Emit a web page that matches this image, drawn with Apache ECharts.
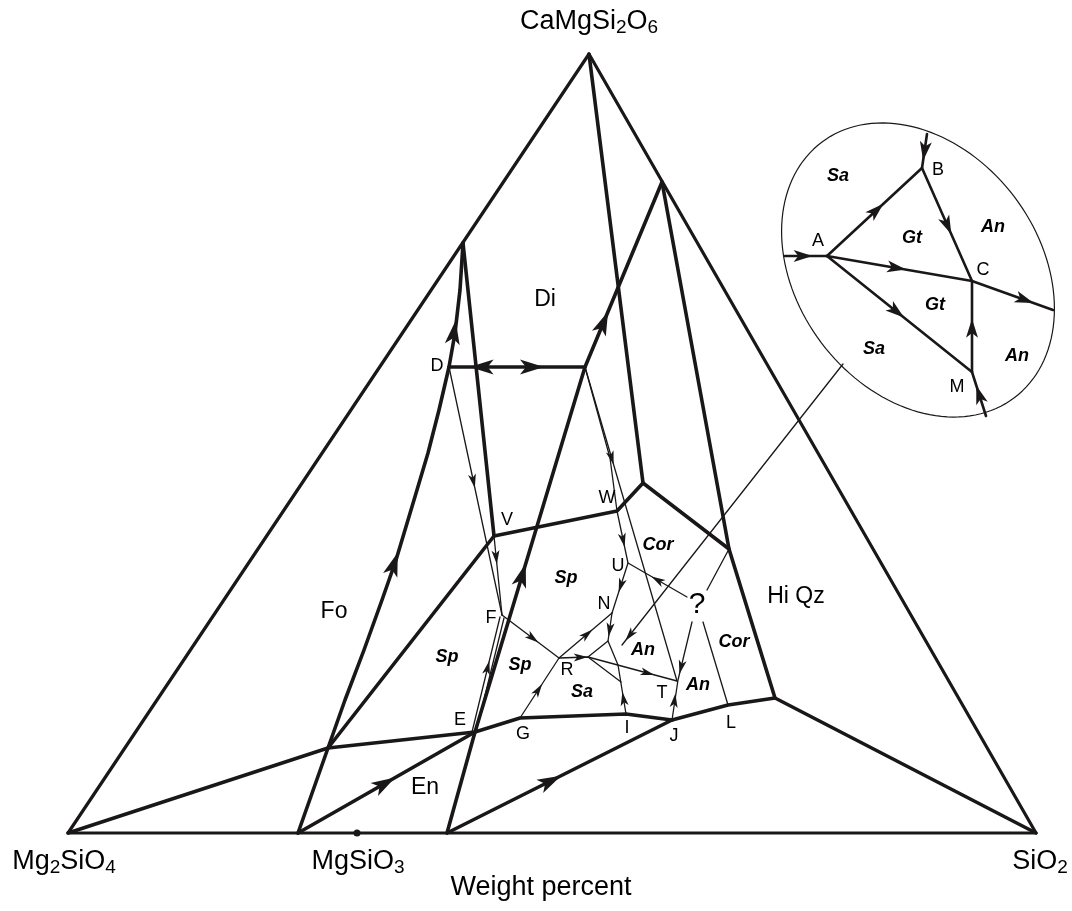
<!DOCTYPE html>
<html>
<head>
<meta charset="utf-8">
<script src="https://cdn.jsdelivr.net/npm/echarts@6/dist/echarts.min.js"></script>
<style>
  html, body { margin: 0; padding: 0; background: #fff; }
  #container { width: 1072px; height: 911px; }
</style>
</head>
<body>
<div id="container"></div>
<script>
// frame units follow the printed figure: x to the right, y downward
var triangle = [[68, 833], [589, 54], [1036, 833], [68, 833]];

var foCurve = [[463, 243], [460, 290], [455, 333], [449, 367], [439, 410], [428, 453],
    [414, 500], [402, 540], [396, 560], [382, 600], [364, 650], [345, 700], [328, 748], [298, 833]];

// heavy field boundaries
var boundaries = [
    [[463, 243], [494, 536]],
    [[449, 367], [585, 367]],
    [[447, 833], [475, 732], [585, 367], [662, 182]],
    [[589, 54], [643, 483]],
    [[662, 182], [729, 549], [775, 698], [1036, 833]],
    [[643, 483], [729, 549]],
    [[494, 536], [617, 511], [643, 483]],
    [[494, 536], [328, 748]],
    [[68, 833], [328, 748], [475, 732], [520, 718], [626, 714], [672, 720]],
    [[298, 833], [475, 732]],
    [[447, 833], [672, 720], [728, 705], [775, 698]]
];

// light crystallisation paths
var paths = [
    [[449, 367], [502, 615]],
    [[494, 536], [502, 615]],
    [[472, 732], [500, 617]],
    [[476, 732], [504, 618]],
    [[502, 615], [559, 658]],
    [[520, 718], [559, 658], [612, 613]],
    [[559, 658], [588, 657], [677, 681]],
    [[612, 613], [608, 641], [588, 657]],
    [[608, 641], [618, 665], [626, 714]],
    [[588, 657], [621, 682]],
    [[585, 367], [610, 458], [617, 511], [628, 563], [612, 613]],
    [[585, 367], [677, 681]],
    [[687, 597], [628, 563]],
    [[692, 622], [678, 680], [672, 720]],
    [[728, 705], [703, 622]],
    [[707, 590], [729, 549]],
    [[843, 364], [622, 645]]
];

// enlarged inset (ellipse)
var insetLines = [
    [[785, 256], [827, 256]],
    [[827, 256], [922, 168]],
    [[927, 134], [922, 168]],
    [[922, 168], [972, 281]],
    [[827, 256], [972, 281], [1053, 310]],
    [[827, 256], [972, 372]],
    [[972, 372], [972, 281]],
    [[986, 416], [972, 372]]
];
var insetOutline = [918, 270, 160, 121, 53]; // centre x, centre y, semi-axes, tilt (deg)

// arrows: segment start, segment end, position along it (points toward end)
var bigArrows = [
    [449, 367, 460, 290, 0.45],
    [382, 600, 402, 540, 0.6],
    [585, 367, 449, 367, 0.76],
    [449, 367, 585, 367, 0.61],
    [585, 367, 662, 182, 0.24],
    [475, 732, 585, 367, 0.43],
    [298, 833, 475, 732, 0.49],
    [447, 833, 672, 720, 0.46]
];
var smallArrows = [
    [449, 367, 502, 615, 0.46],
    [494, 536, 502, 615, 0.27],
    [472, 732, 500, 617, 0.56],
    [502, 615, 559, 658, 0.54],
    [520, 718, 559, 658, 0.47],
    [559, 658, 612, 613, 0.53],
    [559, 658, 588, 657, 0.75],
    [588, 657, 677, 681, 0.67],
    [612, 613, 608, 641, 0.6],
    [626, 714, 618, 665, 0.31],
    [585, 367, 677, 681, 0.29],
    [617, 511, 628, 563, 0.56],
    [628, 563, 612, 613, 0.45],
    [687, 597, 628, 563, 0.5],
    [692, 622, 678, 680, 0.78],
    [672, 720, 677, 681, 0.5],
    [843, 364, 622, 645, 0.965]
];
var insetArrows = [
    [785, 256, 827, 256, 0.43],
    [827, 256, 922, 168, 0.52],
    [927, 134, 922, 168, 0.5],
    [922, 168, 972, 281, 0.51],
    [827, 256, 972, 281, 0.48],
    [972, 281, 1053, 310, 0.65],
    [827, 256, 972, 372, 0.48],
    [972, 372, 972, 281, 0.48],
    [986, 416, 972, 372, 0.49]
];

var pointLabels = [['D', 437, 366], ['V', 507, 520], ['W', 607, 498], ['U', 618, 566],
    ['N', 604, 604], ['F', 491, 618], ['R', 567, 670], ['E', 460, 720], ['G', 523, 734],
    ['I', 627, 728], ['J', 674, 736], ['L', 731, 723], ['T', 662, 693],
    ['A', 818, 241], ['B', 938, 170], ['C', 983, 270], ['M', 957, 387]];
var fieldLabels = [['Di', 545, 300], ['Fo', 334, 612], ['En', 425, 788], ['Hi Qz', 796, 597]];
var phaseLabels = [['Sp', 447, 657], ['Sp', 520, 665], ['Sp', 566, 578], ['Sa', 582, 692],
    ['An', 643, 650], ['An', 698, 685], ['Cor', 658, 545], ['Cor', 734, 642],
    ['Sa', 838, 176], ['Gt', 912, 238], ['An', 993, 227], ['Gt', 935, 305],
    ['Sa', 874, 349], ['An', 1017, 356]];
var cornerLabels = [['CaMgSi{s|2}O{s|6}', 589, 22], ['Mg{s|2}SiO{s|4}', 64, 862],
    ['MgSiO{s|3}', 358, 862], ['SiO{s|2}', 1040, 862], ['Weight percent', 541, 888]];
var enstatite = [[357, 833]];

var ink = '#1a1718';
var textInk = '#000';
var font = '"Liberation Sans", Arial, sans-serif';
var arrowPath = 'path://M0,0L7,20L0,15L-7,20Z';

function arrowData(list) {
    return list.map(function (s) {
        var dx = s[2] - s[0], dy = s[3] - s[1];
        return {
            value: [s[0] + dx * s[4], s[1] + dy * s[4]],
            symbolRotate: Math.atan2(-dx, -dy) * 180 / Math.PI
        };
    });
}
function labelData(list) {
    return list.map(function (l) { return { name: l[0], value: [l[1], l[2]] }; });
}
function linesSeries(list, width) {
    return {
        type: 'lines', coordinateSystem: 'cartesian2d', polyline: true, silent: true,
        data: list.map(function (c) { return { coords: c }; }),
        lineStyle: { color: ink, width: width, opacity: 1, cap: 'round', join: 'round' }
    };
}
function arrowSeries(list, size) {
    return {
        type: 'scatter', silent: true, symbol: arrowPath, symbolSize: size,
        itemStyle: { color: ink, opacity: 1 }, data: arrowData(list), z: 5
    };
}
function textSeries(list, style) {
    return {
        type: 'scatter', silent: true, symbolSize: 1, itemStyle: { color: 'transparent' },
        label: Object.assign({
            show: true, position: 'inside', formatter: '{b}', color: textInk,
            textBorderWidth: 0, opacity: 1, fontFamily: font
        }, style),
        data: labelData(list), z: 6
    };
}

// outline of the inset, sampled from its centre, axes and tilt
var ell = [];
(function () {
    var t = insetOutline[4] * Math.PI / 180;
    for (var i = 0; i <= 144; i++) {
        var p = i / 144 * 2 * Math.PI;
        var u = insetOutline[2] * Math.cos(p), v = insetOutline[3] * Math.sin(p);
        ell.push([insetOutline[0] + u * Math.cos(t) - v * Math.sin(t),
                  insetOutline[1] + u * Math.sin(t) + v * Math.cos(t)]);
    }
})();

var dom = document.getElementById('container');
var myChart = echarts.init(dom, null, { renderer: 'canvas' });

option = {
    animation: false,
    backgroundColor: '#fff',
    grid: { left: 0, right: 0, top: 0, bottom: 0 },
    xAxis: { type: 'value', min: 0, max: 1072, show: false },
    yAxis: { type: 'value', min: 0, max: 911, inverse: true, show: false },
    series: [
        linesSeries([triangle], 3.2),
        linesSeries([foCurve], 3.6),
        linesSeries(boundaries, 3.6),
        linesSeries(paths, 1.3),
        linesSeries(insetLines, 2.6),
        linesSeries([ell], 1.2),
        arrowSeries(bigArrows, [15, 24]),
        arrowSeries(smallArrows, [8, 14]),
        arrowSeries(insetArrows, [12, 19]),
        {
            type: 'scatter', silent: true, symbolSize: 7, itemStyle: { color: ink, opacity: 1 },
            data: enstatite, z: 5
        },
        textSeries(pointLabels, { fontSize: 18 }),
        textSeries(fieldLabels, { fontSize: 23 }),
        textSeries(phaseLabels, { fontSize: 18, fontWeight: 'bold', fontStyle: 'italic' }),
        textSeries([['?', 697, 605]], { fontSize: 30 }),
        textSeries(cornerLabels, {
            fontSize: 27,
            rich: { s: { fontSize: 19, fontFamily: font, color: textInk, padding: [12, 0, 0, 0] } }
        })
    ]
};
myChart.setOption(option);

window.addEventListener('resize', function () {
    myChart.resize();
});
</script>
</body>
</html>
